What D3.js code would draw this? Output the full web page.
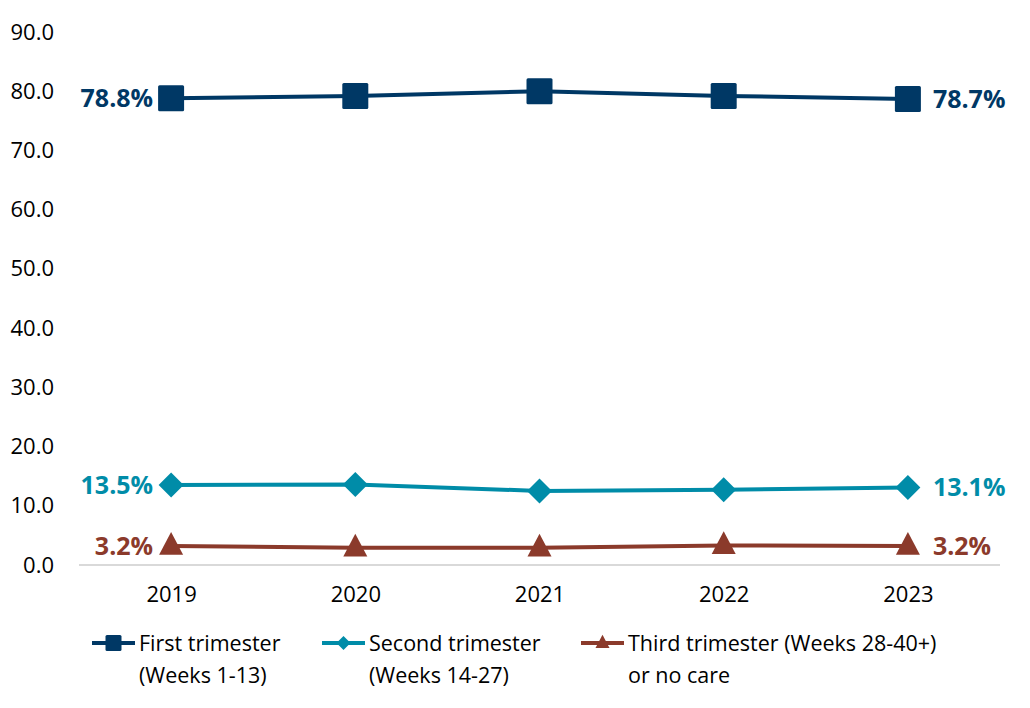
<!DOCTYPE html>
<html>
<head>
<meta charset="utf-8">
<script src="https://cdn.jsdelivr.net/npm/d3@7"></script>
<style>
  body { margin: 0; background: #fff; }
  text { font-family: "Open Sans", "Liberation Sans", sans-serif; }
</style>
</head>
<body>
<svg id="chart" width="1030" height="708"></svg>
<script>
// data
var years = ["2019", "2020", "2021", "2022", "2023"];
var firstTri = [78.8, 79.2, 80.0, 79.2, 78.7];
var secondTri = [13.5, 13.6, 12.5, 12.7, 13.1];
var thirdTri = [3.2, 2.9, 2.9, 3.3, 3.2];
var yTicks = [0, 10, 20, 30, 40, 50, 60, 70, 80, 90];
var seriesNames = [["First trimester", "(Weeks 1-13)"], ["Second trimester", "(Weeks 14-27)"], ["Third trimester (Weeks 28-40+)", "or no care"]];

var svg = d3.select("#chart"),
    margin = {left: 79, right: 30, top: 32, bottom: 143},
    width = +svg.attr("width") - margin.left - margin.right,
    height = +svg.attr("height") - margin.top - margin.bottom;

var x = d3.scalePoint().domain(years).range([margin.left, margin.left + width]).padding(0.5);
var y = d3.scaleLinear().domain([0, 90]).range([margin.top + height, margin.top]);

var series = [
    {values: firstTri, color: "#003865", shape: "square"},
    {values: secondTri, color: "#008CA8", shape: "diamond"},
    {values: thirdTri, color: "#8B3A2B", shape: "triangle"}
];

// y axis labels (no line)
var yAxis = svg.append("g")
    .attr("transform", "translate(" + (margin.left - 22) + ",0)")
    .call(d3.axisLeft(y).tickValues(yTicks).tickFormat(d3.format(".1f")).tickSize(0));
yAxis.select(".domain").remove();
yAxis.selectAll("text").attr("font-size", 22).attr("fill", "#000").attr("font-family", "'Open Sans', sans-serif");

// x axis
var xAxis = svg.append("g")
    .attr("transform", "translate(0," + (margin.top + height) + ")")
    .call(d3.axisBottom(x).tickSize(0).tickPadding(21));
xAxis.select(".domain").attr("stroke", "#d9d9d9").attr("stroke-width", 2)
    .attr("d", "M" + margin.left + ",0H" + (margin.left + width));
xAxis.selectAll("text").attr("font-size", 22).attr("fill", "#000").attr("font-family", "'Open Sans', sans-serif");

function marker(g, shape, color, size) {
    if (shape === "square") {
        g.append("rect").attr("x", -size / 2).attr("y", -size / 2)
            .attr("width", size).attr("height", size).attr("rx", 1.5).attr("fill", color);
    } else if (shape === "diamond") {
        var s = size / 2;
        g.append("path").attr("d", "M0," + (-s) + "L" + s + ",0L0," + s + "L" + (-s) + ",0Z").attr("fill", color);
    } else {
        var h = size * 0.95;
        g.append("path").attr("d", "M0," + (-h * 0.62) + "L" + (size / 2) + "," + (h * 0.38) + "L" + (-size / 2) + "," + (h * 0.38) + "Z").attr("fill", color);
    }
}

var line = d3.line().x(function (d, i) { return x(years[i]); }).y(function (d) { return y(d); });

series.forEach(function (s) {
    svg.append("path")
        .datum(s.values)
        .attr("d", line)
        .attr("fill", "none")
        .attr("stroke", s.color)
        .attr("stroke-width", 4);

    s.values.forEach(function (v, i) {
        var g = svg.append("g").attr("transform", "translate(" + x(years[i]) + "," + y(v) + ")");
        var sz = s.shape === "square" ? 26 : (s.shape === "diamond" ? 25 : 24);
        marker(g, s.shape, s.color, sz);
    });

    // end labels
    svg.append("text")
        .attr("x", x(years[0]) - 18)
        .attr("y", y(s.values[0]) + 9)
        .attr("text-anchor", "end")
        .attr("font-size", 25).attr("font-weight", "bold")
        .attr("fill", s.color)
        .text(s.values[0].toFixed(1) + "%");
    svg.append("text")
        .attr("x", x(years[4]) + 25)
        .attr("y", y(s.values[4]) + 9)
        .attr("text-anchor", "start")
        .attr("font-size", 25).attr("font-weight", "bold")
        .attr("fill", s.color)
        .text(s.values[4].toFixed(1) + "%");
});

// legend
var legendX = [92, 322, 581];
series.forEach(function (s, i) {
    var lg = svg.append("g").attr("transform", "translate(" + legendX[i] + ",643)");
    lg.append("line").attr("x1", 0).attr("x2", 43).attr("y1", 0).attr("y2", 0)
        .attr("stroke", s.color).attr("stroke-width", 4);
    var m = lg.append("g").attr("transform", "translate(21.5,0)");
    marker(m, s.shape, s.color, s.shape === "square" ? 16 : 14);
    lg.append("text").attr("x", 47).attr("y", 8)
        .attr("font-size", 21.5).attr("fill", "#000").text(seriesNames[i][0]);
    lg.append("text").attr("x", 47).attr("y", 40)
        .attr("font-size", 21.5).attr("fill", "#000").text(seriesNames[i][1]);
});
</script>
</body>
</html>
